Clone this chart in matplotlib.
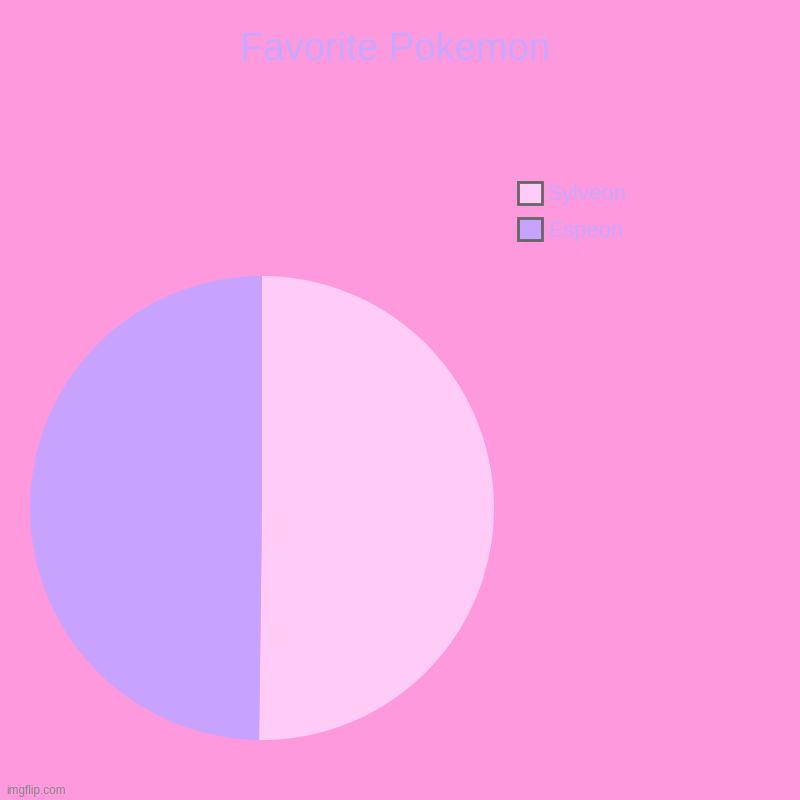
import matplotlib.pyplot as plt
from matplotlib.patches import Patch

plt.rcParams['font.family'] = ['Liberation Sans', 'DejaVu Sans']

labels = ['Sylveon', 'Espeon']
values = [50.2, 49.8]
colors = ['#FFCCF7', '#C8A2FF']
bg = '#FF99DD'
text_color = '#C8A8FF'

fig = plt.figure(figsize=(8, 8), dpi=100, facecolor=bg)
ax = fig.add_axes([0.0375, 0.075, 0.58, 0.58])
ax.set_facecolor(bg)
ax.pie(values, colors=colors, startangle=90, counterclock=False,
       wedgeprops={'linewidth': 0})
ax.set_xlim(-1, 1)
ax.set_ylim(-1, 1)
ax.set_aspect('equal')

fig.text(0.4935, 0.938, 'Favorite Pokemon', ha='center', va='center',
         fontsize=27.5, color=text_color)

handles = [Patch(facecolor=c, edgecolor='#666666', linewidth=2) for c in colors]
leg = fig.legend(handles, labels, loc='upper left', bbox_to_anchor=(0.634, 0.787),
                 frameon=False, fontsize=16, handlelength=1.05, handleheight=1.15,
                 handletextpad=0.3, labelspacing=0.6, borderpad=0)
for t in leg.get_texts():
    t.set_color(text_color)

fig.text(0.008, 0.011, 'imgflip.com', fontsize=8.5, color='#888888', ha='left', va='center')

fig.savefig('out.png', dpi=100, facecolor=bg)
